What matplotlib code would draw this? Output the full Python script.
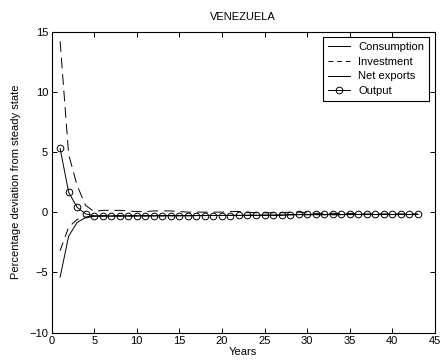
import matplotlib
matplotlib.use('Agg')
import matplotlib.pyplot as plt
from matplotlib.lines import Line2D

plt.rcParams['font.family'] = ['Liberation Sans', 'DejaVu Sans']

years = list(range(1, 44))

output = [5.3, 1.65, 0.4, -0.15, -0.3, -0.32, -0.33, -0.33, -0.32, -0.32,
          -0.31, -0.31, -0.3, -0.3, -0.3, -0.3, -0.29, -0.29, -0.28, -0.28,
          -0.28, -0.27, -0.27, -0.27, -0.26, -0.26, -0.26, -0.2, -0.19, -0.19,
          -0.19, -0.19, -0.19, -0.19, -0.19, -0.19, -0.19, -0.19, -0.19, -0.19,
          -0.19, -0.19, -0.19]
investment = [14.2, 4.8, 2.2, 0.55, 0.05, 0.15, 0.15, 0.15, 0.1, 0.05,
              0.05, 0.1, 0.1, 0.1, 0.05, 0.0, 0.0, 0.0, 0.0, 0.0,
              0.05, 0.05, 0.0, -0.05, -0.05, -0.05, -0.05, 0.0, 0.0, -0.05,
              -0.1, -0.1, -0.1, -0.1, -0.1, -0.15, -0.15, -0.15, -0.15, -0.15,
              -0.15, -0.15, -0.15]
consumption = [-5.4, -2.0, -0.85, -0.45, -0.35, -0.32, -0.32, -0.31, -0.31, -0.3,
               -0.3, -0.3, -0.3, -0.29, -0.29, -0.29, -0.28, -0.28, -0.28, -0.27,
               -0.27, -0.27, -0.26, -0.26, -0.26, -0.25, -0.25, -0.22, -0.21, -0.21,
               -0.21, -0.21, -0.21, -0.21, -0.2, -0.2, -0.2, -0.2, -0.2, -0.2,
               -0.2, -0.2, -0.2]
net_exports = [-3.2, -1.25, -0.6, -0.4, -0.32, -0.3, -0.3, -0.3, -0.3, -0.3,
               -0.3, -0.3, -0.3, -0.3, -0.29, -0.29, -0.29, -0.28, -0.28, -0.28,
               -0.27, -0.27, -0.27, -0.26, -0.26, -0.26, -0.25, -0.22, -0.21, -0.21,
               -0.21, -0.21, -0.21, -0.21, -0.2, -0.2, -0.2, -0.2, -0.2, -0.2,
               -0.2, -0.2, -0.2]

labels = ['Consumption', 'Investment', 'Net exports', 'Output']

fig = plt.figure(figsize=(4.41, 3.63), dpi=100)
ax = fig.add_axes([0.117, 0.084, 0.869, 0.829])

lw = 0.7
fs = 8
ax.plot(years, consumption, color='black', linewidth=lw)
ax.plot(years, investment, color='black', linewidth=lw, linestyle=(0, (11, 6)))
ax.plot(years, net_exports, color='black', linewidth=lw, linestyle=(0, (9, 6)))
ax.plot(years, output, color='black', linewidth=lw, marker='o',
        markersize=4.8, markerfacecolor='none', markeredgewidth=0.7)

ax.set_xlim(0, 45)
ax.set_ylim(-10, 15)
ax.set_xticks(range(0, 46, 5))
ax.set_yticks(range(-10, 16, 5))
ax.tick_params(direction='in', top=True, right=True, labelsize=fs, length=3.5,
               width=0.7, pad=2.5)
for s in ax.spines.values():
    s.set_linewidth(0.8)

ax.set_title('VENEZUELA', fontsize=fs, pad=8)
ax.set_xlabel('Years', fontsize=fs, labelpad=1)
ax.set_ylabel('Percentage deviation from steady state', fontsize=fs, labelpad=6)

handles = [
    Line2D([], [], color='black', linewidth=lw),
    Line2D([], [], color='black', linewidth=lw, linestyle=(0, (5, 4))),
    Line2D([], [], color='black', linewidth=lw),
    Line2D([], [], color='black', linewidth=lw, marker='o', markersize=4.8,
           markerfacecolor='none', markeredgewidth=0.7),
]
lgd = ax.legend(handles, labels, loc='upper right', fontsize=fs, frameon=True,
                fancybox=False, edgecolor='black', framealpha=1,
                handlelength=2.0, handletextpad=0.7, labelspacing=0.42,
                borderpad=0.45, borderaxespad=0.5)
lgd.get_frame().set_linewidth(0.8)

plt.savefig('out.png', dpi=100)
